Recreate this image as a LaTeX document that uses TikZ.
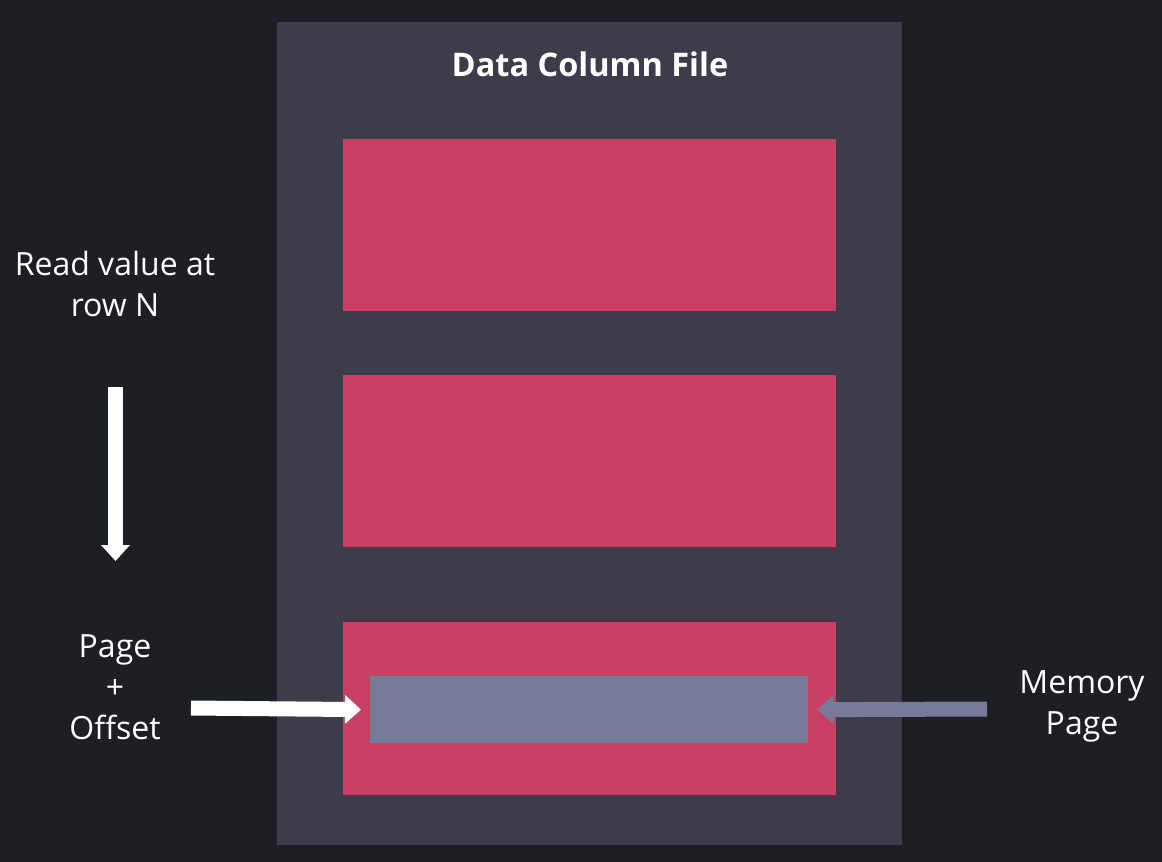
\documentclass[tikz,border=0pt]{standalone}
\usepackage{fontspec}
\setmainfont{Open Sans}
\usetikzlibrary{arrows.meta}
\definecolor{bgc}{HTML}{1E1F24}
\definecolor{filec}{HTML}{3E3C4A}
\definecolor{redc}{HTML}{C83F63}
\definecolor{memc}{HTML}{777B99}
\tikzset{
  lbl/.style={text=white, font=\fontsize{32}{41}\selectfont, align=center, inner sep=0pt},
  redbox/.style={fill=redc, draw=none},
  fatarrow/.style={line width=15pt, -{Triangle[width=28pt,length=16pt]}},
}
\begin{document}
\begin{tikzpicture}[x=1pt,y=-1pt]
\fill[bgc] (0,0) rectangle (1162,862);
\useasboundingbox (0,0) rectangle (1162,862);
\fill[filec] (277,22) rectangle (902,845);
\node[text=white, font=\fontsize{32.5}{36}\selectfont\bfseries, inner sep=0pt] (title) at (590,64) {Data Column File};
\fill[redbox] (343,139) rectangle (836,311);
\fill[redbox] (343,375) rectangle (836,547);
\fill[redbox] (343,622) rectangle (836,795);
\node[fill=memc, minimum width=438pt, minimum height=67pt, inner sep=0pt, anchor=north west] (mem) at (370,676) {};
\node[lbl] (read) at (115,284) {Read value at\\row N};
\node[lbl] (po) at (115,687) {Page\\+\\Offset};
\node[lbl] (mp) at (1082,706) {Memory\\Page};
\coordinate (d1) at (115.5,387);
\coordinate (d2) at (115.5,561);
\draw[fatarrow, white] (d1) -- (d2);
\coordinate (r1) at (191,708);
\draw[fatarrow, white, shorten >=9pt] (r1) -- (mem.west);
\coordinate (l1) at (987,709);
\draw[fatarrow, memc, shorten >=9pt] (l1) -- (mem.east);
\end{tikzpicture}
\end{document}
